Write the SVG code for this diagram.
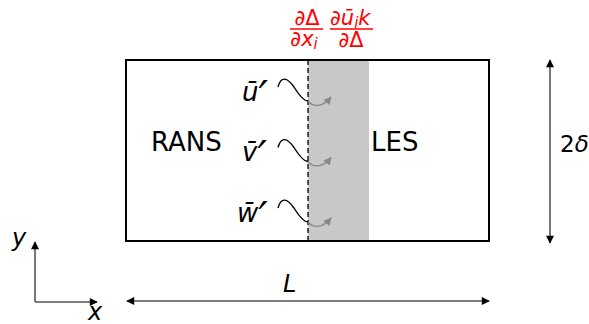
<svg xmlns="http://www.w3.org/2000/svg" width="589" height="324" viewBox="0 0 589 324">
  <style>
    text { font-family: "DejaVu Sans", "Liberation Sans", sans-serif; fill: #000; }
    .lbl { font-size: 26px; }
    .math { font-style: italic; font-size: 24px; }
    .vel { font-style: italic; font-size: 26px; }
    .prime { font-size: 42px; }
    .red { fill: #ff0000; font-size: 21px; }
    .bar { stroke: #ff0000; stroke-width: 1.6; }
    .dim { stroke: #555; stroke-width: 1.6; fill: none; }
    .wave { stroke: #000; stroke-width: 1.4; fill: none; }
    .waveIn { stroke: #888; stroke-width: 1.3; fill: none; }
  </style>
  <defs>
    <marker id="head" viewBox="0 0 10 10" refX="9" refY="5" markerWidth="10" markerHeight="8" markerUnits="userSpaceOnUse" orient="auto-start-reverse">
      <path d="M0,0 L10,5 L0,10 Z" fill="#000"/>
    </marker>
    <marker id="headGray" viewBox="0 0 10 10" refX="9" refY="5" markerWidth="9" markerHeight="8" markerUnits="userSpaceOnUse" orient="auto">
      <path d="M0,0 L10,5 L0,10 Z" fill="#888"/>
    </marker>
    <g id="wave">
      <path class="wave" d="M278,87 C281,76 287,77 294,87 C299,95 304,101 308,101"/>
      <path class="waveIn" d="M308,101 C313,107 322,108 331,97" marker-end="url(#headGray)"/>
    </g>
  </defs>

  <!-- domain -->
  <g id="domain">
    <rect x="308" y="60" width="61" height="181" fill="#c8c8c8"/>
    <rect x="126" y="60" width="363" height="181" fill="none" stroke="#000" stroke-width="2"/>
    <line x1="308" y1="60" x2="308" y2="241" stroke="#000" stroke-width="1.3" stroke-dasharray="5,3"/>
  </g>

  <g id="rans"><text class="lbl" x="151" y="151">RANS</text></g>
  <g id="les"><text class="lbl" x="371" y="151">LES</text></g>

  <!-- velocity fluctuations crossing the interface -->
  <g id="fluct">
    <use href="#wave"/>
    <use href="#wave" transform="translate(0,60.5)"/>
    <use href="#wave" transform="translate(0,121)"/>
    <text class="vel" x="242" y="101">u&#x304;<tspan class="prime" dx="0" dy="10">′</tspan></text>
    <text class="vel" x="242" y="161">v&#x304;<tspan class="prime" dx="0" dy="10">′</tspan></text>
    <text class="vel" x="237" y="222">w&#x304;<tspan class="prime" dx="0" dy="10">′</tspan></text>
  </g>

  <!-- source terms -->
  <g id="terms">
    <text class="red" x="307" y="25" text-anchor="middle">∂Δ</text>
    <line class="bar" x1="290" y1="29" x2="323" y2="29"/>
    <text class="red" x="304" y="46" text-anchor="middle">∂<tspan font-style="italic">x</tspan><tspan font-style="italic" font-size="15" dy="3">i</tspan></text>
    <text class="red" x="330" y="25">∂<tspan font-style="italic">u&#x304;</tspan><tspan font-style="italic" font-size="15" dy="3">i</tspan><tspan font-style="italic" dy="-3">k</tspan></text>
    <line class="bar" x1="330" y1="29" x2="373" y2="29"/>
    <text class="red" x="351" y="47" text-anchor="middle">∂Δ</text>
  </g>

  <!-- dimensions and axes -->
  <g id="connectors">
    <line class="dim" x1="127" y1="301" x2="489" y2="301" marker-start="url(#head)" marker-end="url(#head)"/>
    <line class="dim" x1="550" y1="60" x2="550" y2="243" marker-start="url(#head)" marker-end="url(#head)"/>
    <line class="dim" x1="35" y1="302" x2="35" y2="242" marker-end="url(#head)"/>
    <line class="dim" x1="35" y1="302" x2="97" y2="302" marker-end="url(#head)"/>
  </g>
  <g id="dimLabels">
    <text class="math" x="283" y="292">L</text>
    <text x="560" y="152" font-size="23">2<tspan font-style="italic">δ</tspan></text>
    <text class="math" x="12" y="246">y</text>
    <text class="math" x="88" y="320">x</text>
  </g>
</svg>
